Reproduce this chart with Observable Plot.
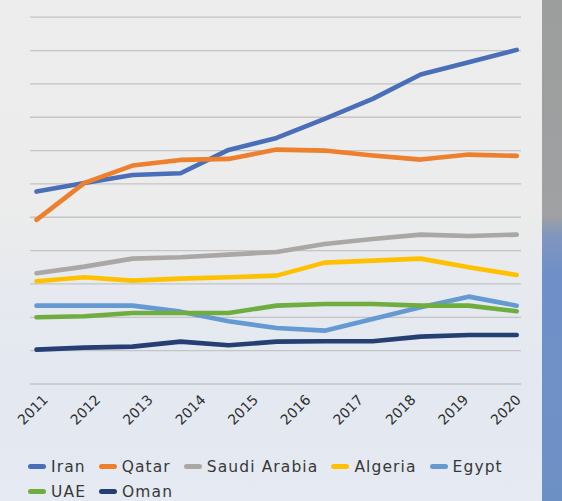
<!DOCTYPE html>
<html>
<head>
<meta charset="utf-8">
<script src="https://cdn.jsdelivr.net/npm/d3@7"></script>
<script src="https://cdn.jsdelivr.net/npm/@observablehq/plot@0.6"></script>
<style>
  html, body { margin: 0; padding: 0; }
  body {
    width: 562px; height: 501px; overflow: hidden; position: relative;
    background: linear-gradient(to bottom, #ecedec 0%, #ebeceb 42%, #e6e9ef 58%, #e3e8f1 80%, #e6eaf2 100%);
    font-family: "DejaVu Sans", sans-serif;
  }
  #strip {
    position: absolute; left: 542px; top: 0; width: 20px; height: 501px;
    background: linear-gradient(to bottom, #9c9e9e 0%, #a0a1a2 43%, #8096be 47%, #6f8fc8 55%, #7090c8 80%, #6d90c4 100%);
  }
  #chart { position: absolute; left: 0; top: 0; }
  #legend {
    position: absolute; left: 28px; top: 454px; width: 512px;
    display: flex; flex-wrap: wrap; column-gap: 13px; row-gap: 0;
    font-size: 15.5px; letter-spacing: 1.1px; color: #383838;
  }
  .item { display: flex; align-items: center; height: 25px; }
  .sw { width: 18px; height: 5px; border-radius: 3px; margin-right: 5px; }
  .brk { flex-basis: 100%; height: 0; }
</style>
</head>
<body>
<div id="strip"></div>
<div id="chart"></div>
<div id="legend"></div>
<script>
// ---- data ----
const steps = [0, 1, 2, 3, 4, 5, 6, 7, 8, 9, 10];
const xLabels = ["2011", "2012", "2013", "2014", "2015", "2016", "2017", "2018", "2019", "2020"];
const seriesNames = ["Iran", "Qatar", "Saudi Arabia", "Algeria", "Egypt", "UAE", "Oman"];
const seriesColors = ["#4a6eb8", "#ee7f2d", "#aaa7a4", "#ffc000", "#6499d2", "#6fad3e", "#253f72"];
const iran    = [57.7, 60.3, 62.7, 63.2, 70.2, 73.8, 79.5, 85.5, 92.8, 96.5, 100.2];
const qatar   = [49.2, 60.3, 65.5, 67.2, 67.5, 70.3, 70.0, 68.5, 67.3, 68.8, 68.4];
const saudi   = [33.2, 35.2, 37.6, 38.0, 38.8, 39.6, 42.0, 43.5, 44.8, 44.4, 44.8];
const algeria = [30.8, 32.0, 31.0, 31.6, 32.0, 32.5, 36.4, 37.0, 37.6, 35.0, 32.7];
const egypt   = [23.5, 23.5, 23.5, 21.7, 18.8, 16.8, 16.0, 19.5, 23.0, 26.2, 23.5];
const uae     = [20.0, 20.3, 21.3, 21.3, 21.3, 23.5, 24.0, 24.0, 23.5, 23.5, 21.8];
const oman    = [10.3, 10.9, 11.2, 12.7, 11.6, 12.7, 12.8, 12.8, 14.2, 14.7, 14.7];
const gridValues = [0, 10, 20, 30, 40, 50, 60, 70, 80, 90, 100, 110];
const legendRowBreakAfter = "Egypt";

const seriesValues = [iran, qatar, saudi, algeria, egypt, uae, oman];
const rows = [];
seriesNames.forEach((name, si) => {
  steps.forEach((s, i) => rows.push({series: name, step: s, value: seriesValues[si][i]}));
});

// label placement along the axis (labels are spread slightly wider than the points)
const labelPos = d3.scaleLinear().domain([0, xLabels.length - 1]).range([0.19, 10.04]);
const labelRows = xLabels.map((t, i) => ({t, x: labelPos(i)}));

const chart = Plot.plot({
  width: 562,
  height: 440,
  marginLeft: 30,
  marginRight: 41,
  marginTop: 16.7,
  marginBottom: 56.5,
  style: {background: "transparent", fontFamily: "DejaVu Sans, sans-serif"},
  x: {domain: [-0.125, 10.1], axis: null},
  y: {domain: [0, 110], axis: null},
  color: {domain: seriesNames, range: seriesColors},
  marks: [
    Plot.ruleY(gridValues, {stroke: "#c3c4c4", strokeWidth: 1.3}),
    Plot.line(rows, {x: "step", y: "value", z: "series", stroke: "series",
      strokeWidth: 4.6, strokeLinecap: "round", strokeLinejoin: "round"}),
    Plot.text(labelRows, {x: "x", y: 0, text: "t", rotate: -45, textAnchor: "end",
      lineAnchor: "middle", dy: 13.5, fontSize: 14, fill: "#2e2e2e",
      letterSpacing: "1.4px"})
  ]
});
document.getElementById("chart").appendChild(chart);

const legend = document.getElementById("legend");
seriesNames.forEach((name, i) => {
  const item = document.createElement("div");
  item.className = "item";
  const sw = document.createElement("span");
  sw.className = "sw";
  sw.style.background = seriesColors[i];
  const tx = document.createElement("span");
  tx.textContent = name;
  item.appendChild(sw);
  item.appendChild(tx);
  legend.appendChild(item);
  if (name === legendRowBreakAfter) {
    const br = document.createElement("div");
    br.className = "brk";
    legend.appendChild(br);
  }
});
</script>
</body>
</html>
